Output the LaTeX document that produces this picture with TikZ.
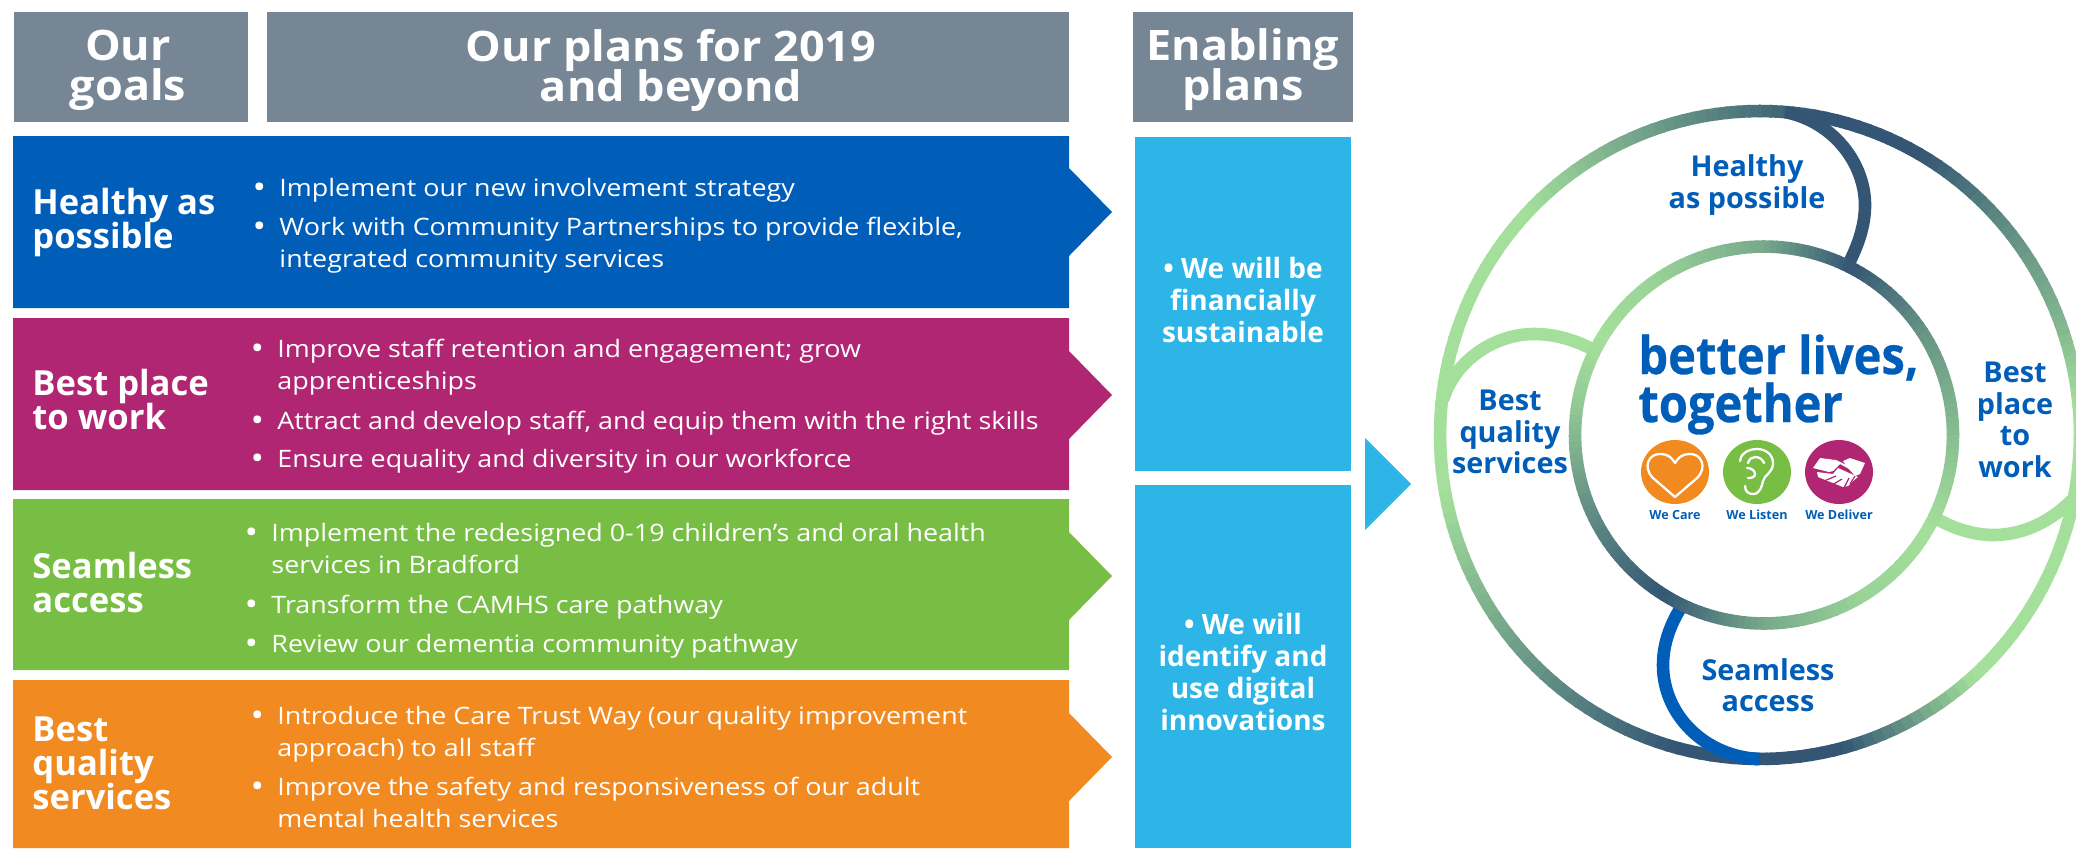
\documentclass[tikz,border=0pt]{standalone}
\usepackage{fontspec}
\setmainfont{Open Sans}
\newfontfamily\titlefont[BoldFeatures={FakeBold=0.6}]{Open Sans}
\definecolor{headgrey}{HTML}{768694}
\definecolor{nhsblue}{HTML}{005EB8}
\definecolor{plum}{HTML}{B02672}
\definecolor{leaf}{HTML}{78BE44}
\definecolor{amber}{HTML}{F18A21}
\definecolor{sky}{HTML}{2CB5E6}
\definecolor{ringdark}{HTML}{345674}
\definecolor{ringlight}{HTML}{A4E09B}
\lineskiplimit=-100pt
\newcommand{\gradseg}[8]{%
  \pgfmathtruncatemacro\nsteps{max(1,round(abs(#6-#5)/2))}%
  \foreach \k in {1,...,\nsteps}{%
    \pgfmathsetmacro\aa{#5+(#6-#5)*(\k-1)/\nsteps}%
    \pgfmathsetmacro\ab{#5+(#6-#5)*(\k+0.2)/\nsteps}%
    \pgfmathsetmacro\pp{#7+(#8-#7)*(\k-0.5)/\nsteps}%
    \colorlet{segc}{ringdark!\pp!ringlight}%
    \draw[ring,draw=segc] ({#1+#3*cos(\aa)},{#2-#4*sin(\aa)}) -- ({#1+#3*cos(\ab)},{#2-#4*sin(\ab)});
  }}
\newcommand{\bul}{\llap{\raisebox{-1.2pt}{\fontsize{16}{16}\selectfont •}\hspace{6pt}}}
\begin{document}
\begin{tikzpicture}[x=0.5pt,y=-0.5pt,
  ring/.style={line width=6.3pt,line cap=butt},
  head/.style={text=white,font=\fontsize{21}{20}\selectfont\bfseries,align=center,inner sep=0pt,xscale=1.07},
  goal/.style={text=white,font=\fontsize{17.3}{17}\selectfont\bfseries,align=left,anchor=west,inner sep=0pt},
  item/.style={text=white,font=\fontsize{12}{16}\selectfont,align=left,anchor=base west,inner sep=0pt,xscale=1.12},
  enab/.style={text=white,font=\fontsize{14}{16}\selectfont\bfseries,align=center,inner sep=0pt},
  circ/.style={text=nhsblue,font=\fontsize{14.4}{15.75}\selectfont\bfseries,align=center,inner sep=0pt},
  small/.style={text=nhsblue,font=\fontsize{6.3}{7}\selectfont\bfseries,inner sep=0pt},
  title/.style={text=nhsblue,font=\titlefont\fontsize{26}{24}\selectfont\bfseries,anchor=base west,inner sep=0pt,xscale=0.905},
  icon/.style={line width=1.15pt,draw=white,line join=round,line cap=round},
]
\useasboundingbox (0,0) rectangle (2076,848);
\clip (0,0) rectangle (2076,848);
% headers
\fill[headgrey] (14,12) rectangle (248,122);
\fill[headgrey] (267,12) rectangle (1069,122);
\fill[headgrey] (1133,12) rectangle (1353,122);
\node[head] (h1) at (128,70) {Our\\goals};
\node[head] (h2) at (671,70) {Our plans for 2019\\and beyond};
\node[head] (h3) at (1243,70) {Enabling\\plans};
% goal bands
\fill[nhsblue] (13,136) -- (1069,136) -- (1069,168) -- (1112,212) -- (1069,256) -- (1069,308) -- (13,308) -- cycle;
\fill[plum] (13,318) -- (1069,318) -- (1069,351) -- (1112,395) -- (1069,439) -- (1069,490) -- (13,490) -- cycle;
\fill[leaf] (13,499) -- (1069,499) -- (1069,532) -- (1112,576) -- (1069,620) -- (1069,670) -- (13,670) -- cycle;
\fill[amber] (13,680) -- (1069,680) -- (1069,713) -- (1112,757) -- (1069,801) -- (1069,848) -- (13,848) -- cycle;
\node[goal] (g1) at (32,223) {Healthy as\\possible};
\node[goal] (g2) at (32,400) {Best place\\to work};
\node[goal] (g3) at (32,583) {Seamless\\access};
\node[goal] (g4) at (32,763) {Best\\quality\\services};
% items
\node[item] (i11) at (279,196) {\bul Implement our new involvement strategy};
\node[item] (i12) at (279,235) {\bul Work with Community Partnerships to provide flexible,};
\node[item] (i13) at (279,267) {integrated community services};
\node[item] (i21) at (277,357) {\bul Improve staff retention and engagement; grow};
\node[item] (i22) at (277,389) {apprenticeships};
\node[item] (i23) at (277,429) {\bul Attract and develop staff, and equip them with the right skills};
\node[item] (i24) at (277,467) {\bul Ensure equality and diversity in our workforce};
\node[item] (i31) at (271,541) {\bul Implement the redesigned 0-19 children’s and oral health};
\node[item] (i32) at (271,573) {services in Bradford};
\node[item] (i33) at (271,613) {\bul Transform the CAMHS care pathway};
\node[item] (i34) at (271,652) {\bul Review our dementia community pathway};
\node[item] (i41) at (277,724) {\bul Introduce the Care Trust Way (our quality improvement};
\node[item] (i42) at (277,756) {approach) to all staff};
\node[item] (i43) at (277,795) {\bul Improve the safety and responsiveness of our adult};
\node[item] (i44) at (277,827) {mental health services};
% enabling panels
\fill[sky] (1135,137) rectangle (1351,471);
\fill[sky] (1135,485) rectangle (1351,848);
\node[enab] (e1) at (1243,300) {• We will be\\financially\\sustainable};
\node[enab] (e2) at (1243,672) {• We will\\identify and\\use digital\\innovations};
\fill[sky] (1365,438) -- (1411,484) -- (1365,530) -- cycle;
% outer ring
\def\ocx{1760}\def\ocy{435}\def\orx{320}\def\ory{324}
\gradseg{\ocx}{\ocy}{\orx}{\ory}{80}{137}{100}{0}
\gradseg{\ocx}{\ocy}{\orx}{\ory}{137}{190}{0}{0}
\gradseg{\ocx}{\ocy}{\orx}{\ory}{190}{255}{0}{100}
\gradseg{\ocx}{\ocy}{\orx}{\ory}{255}{285}{100}{100}
\gradseg{\ocx}{\ocy}{\orx}{\ory}{285}{312}{100}{0}
\gradseg{\ocx}{\ocy}{\orx}{\ory}{312}{365}{0}{0}
\gradseg{\ocx}{\ocy}{\orx}{\ory}{365}{380}{0}{30}
\gradseg{\ocx}{\ocy}{\orx}{\ory}{380}{400}{30}{60}
\gradseg{\ocx}{\ocy}{\orx}{\ory}{400}{420}{60}{100}
\gradseg{\ocx}{\ocy}{\orx}{\ory}{420}{440}{100}{100}
% joining arcs
\draw[ring,ringdark] (1785,112) .. controls (1835,122) and (1865,165) .. (1865,205) .. controls (1865,226) and (1858,245) .. (1849,263);
\draw[ring,ringlight] (1939,520) .. controls (1955,529) and (1975,535) .. (1993,535) .. controls (2030,535) and (2062,515) .. (2085,485);
\draw[ring,ringlight] (1590,348) .. controls (1572,339) and (1553,334) .. (1534,334) .. controls (1495,334) and (1455,360) .. (1443,400);
\draw[ring,nhsblue] (1680,609) .. controls (1669,627) and (1663,646) .. (1663,665) .. controls (1663,715) and (1705,757) .. (1760,759);
% inner ring
\def\icx{1764}\def\icy{435}\def\irx{189}\def\iry{188.5}
\gradseg{\icx}{\icy}{\irx}{\iry}{63}{90}{100}{40}
\gradseg{\icx}{\icy}{\irx}{\iry}{90}{125}{40}{10}
\gradseg{\icx}{\icy}{\irx}{\iry}{125}{150}{10}{0}
\gradseg{\icx}{\icy}{\irx}{\iry}{150}{170}{0}{15}
\gradseg{\icx}{\icy}{\irx}{\iry}{170}{200}{15}{55}
\gradseg{\icx}{\icy}{\irx}{\iry}{200}{238}{55}{100}
\gradseg{\icx}{\icy}{\irx}{\iry}{238}{270}{100}{40}
\gradseg{\icx}{\icy}{\irx}{\iry}{270}{300}{40}{10}
\gradseg{\icx}{\icy}{\irx}{\iry}{300}{330}{10}{0}
\gradseg{\icx}{\icy}{\irx}{\iry}{330}{360}{0}{25}
\gradseg{\icx}{\icy}{\irx}{\iry}{360}{393}{25}{55}
\gradseg{\icx}{\icy}{\irx}{\iry}{393}{423}{55}{100}
% ring labels
\node[circ] (c1) at (1747,185) {Healthy\\as possible};
\node[circ] (c2) at (2015,420) {Best\\place\\to\\work};
\node[circ] (c3) at (1768,685) {Seamless\\access};
\node[circ] (c4) at (1510,432) {Best\\quality\\services};
% centre
\node[title] (t1) at (1638,374) {better lives,};
\node[title] (t2) at (1638,422) {together};
% icons
\fill[amber] (1675,472) ellipse (34 and 32);
\fill[leaf] (1757,472) ellipse (34 and 32);
\fill[plum] (1839,472) ellipse (34 and 32);
\draw[icon] (1675,497) -- (1653,478) .. controls (1642,467) and (1649,453) .. (1661,454) .. controls (1668,454) and (1672,458) .. (1675,463) .. controls (1678,458) and (1682,454) .. (1689,454) .. controls (1701,453) and (1708,467) .. (1697,478) -- cycle;
\draw[icon] (1745,486) .. controls (1745,492) and (1749,494) .. (1753,494) .. controls (1760,494) and (1762,486) .. (1763,481) .. controls (1764,475) and (1773,473) .. (1773,463) .. controls (1773,454) and (1765,449) .. (1757,449) .. controls (1747,449) and (1740,455) .. (1740,461);
\draw[icon] (1748,463) .. controls (1749,459) and (1752,457) .. (1755,457) .. controls (1760,457) and (1763,460) .. (1764,463);
\draw[icon] (1747,468) .. controls (1752,468) and (1755,471) .. (1755,474) .. controls (1755,477) and (1752,478) .. (1748,478);
\fill[white] (1813,468) -- (1820,458) -- (1836,460) -- (1853,468) -- (1850,469.5) -- (1840,464) -- (1833,471) -- (1829,472) -- cycle;
\fill[white] (1843,461) -- (1850,458) -- (1865,463) -- (1860,474) -- (1855,476) -- (1848,468) -- cycle;
\fill[white] (1817,472) -- (1833,474) -- (1838,468) -- (1858,477) -- (1853,481) -- (1848,486) -- (1843,487) -- (1818,477) -- cycle;
\draw[plum,line width=0.6pt] (1824,481) -- (1836,476) (1832,485) -- (1842,479) (1844,488) -- (1849,478) (1850,484) -- (1855,476);
\node[small] (w1) at (1675,515) {We Care};
\node[small] (w2) at (1757,515) {We Listen};
\node[small] (w3) at (1839,515) {We Deliver};
\end{tikzpicture}
\end{document}
